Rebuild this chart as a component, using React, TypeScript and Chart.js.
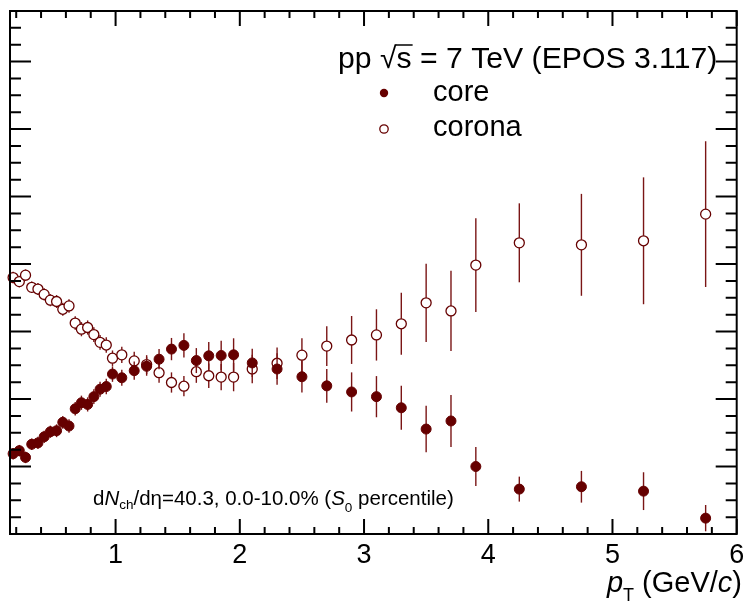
import React, { useEffect, useRef } from 'react';
import { Chart, registerables } from 'chart.js';

Chart.register(...registerables);

// ---- data ----
const pT = [
  0.175, 0.225, 0.275, 0.325, 0.375, 0.425, 0.475, 0.525, 0.575, 0.625, 0.675, 0.725, 0.775, 0.825, 0.875, 0.925, 0.975,
  1.05, 1.15, 1.25, 1.35, 1.45, 1.55, 1.65, 1.75, 1.85, 1.95,
  2.1, 2.3, 2.5, 2.7, 2.9, 3.1, 3.3, 3.5, 3.7, 3.9,
  4.25, 4.75, 5.25, 5.75,
];
const coreFrac = [
  0.238, 0.247, 0.227, 0.266, 0.270, 0.288, 0.303, 0.306, 0.331, 0.320, 0.371, 0.389, 0.384, 0.407, 0.429, 0.437, 0.474,
  0.463, 0.484, 0.497, 0.518, 0.548, 0.559, 0.514, 0.528, 0.529, 0.531,
  0.507, 0.489, 0.466, 0.439, 0.421, 0.407, 0.374, 0.311, 0.335, 0.200,
  0.133, 0.140, 0.127, 0.047,
];
const coreErr = [
  0.017, 0.017, 0.017, 0.017, 0.018, 0.018, 0.018, 0.019, 0.019, 0.020, 0.020, 0.021, 0.021, 0.022, 0.022, 0.023, 0.023,
  0.024, 0.027, 0.028, 0.030, 0.033, 0.036, 0.037, 0.041, 0.044, 0.049,
  0.042, 0.047, 0.047, 0.050, 0.058, 0.061, 0.065, 0.069, 0.077, 0.058,
  0.037, 0.047, 0.056, 0.039,
];
const coronaFrac = [
  0.760, 0.748, 0.767, 0.731, 0.726, 0.710, 0.693, 0.689, 0.666, 0.676, 0.625, 0.607, 0.612, 0.591, 0.568, 0.560, 0.521,
  0.531, 0.513, 0.502, 0.478, 0.449, 0.438, 0.481, 0.469, 0.465, 0.465,
  0.489, 0.506, 0.530, 0.557, 0.575, 0.590, 0.623, 0.685, 0.661, 0.797,
  0.863, 0.857, 0.869, 0.948,
];
const coronaErr = [
  0.017, 0.017, 0.017, 0.017, 0.018, 0.018, 0.018, 0.019, 0.019, 0.020, 0.020, 0.021, 0.021, 0.022, 0.022, 0.023, 0.023,
  0.024, 0.027, 0.028, 0.030, 0.030, 0.030, 0.033, 0.036, 0.039, 0.042,
  0.042, 0.047, 0.050, 0.059, 0.071, 0.076, 0.092, 0.116, 0.119, 0.139,
  0.117, 0.151, 0.188, 0.216,
];
const xTickValues = [1, 2, 3, 4, 5, 6];
const xTickLabels = ['1', '2', '3', '4', '5', '6'];
const seriesNames = ['core', 'corona'];
const titleParts = ['pp ', '√', 's', ' = 7 TeV (EPOS 3.117)'];

const X_MIN = 0.15;
const X_MAX = 6;
const Y_MIN = 0;
const Y_MAX = 1.55;

const MAROON = '#660000';
const BAR = '#7a1515';
const FONT = '"Liberation Sans", Arial, Helvetica, sans-serif';

type Run = { t: string; size: number; italic?: boolean; dy?: number };

function runWidth(ctx: CanvasRenderingContext2D, runs: Run[]) {
  let w = 0;
  for (const r of runs) {
    ctx.font = `${r.italic ? 'italic ' : ''}${r.size}px ${FONT}`;
    w += ctx.measureText(r.t).width;
  }
  return w;
}
function drawRuns(ctx: CanvasRenderingContext2D, runs: Run[], x: number, y: number) {
  ctx.textAlign = 'left';
  ctx.textBaseline = 'alphabetic';
  const xs: number[] = [];
  for (const r of runs) {
    ctx.font = `${r.italic ? 'italic ' : ''}${r.size}px ${FONT}`;
    xs.push(x);
    ctx.fillText(r.t, x, y + (r.dy || 0));
    x += ctx.measureText(r.t).width;
  }
  xs.push(x);
  return xs;
}

const rootPlugin = {
  id: 'rootStyle',
  beforeDatasetDraw(chart: any, args: any) {
    const ds = chart.data.datasets[args.index];
    const errs: number[] = ds.errors;
    if (!errs) return;
    const xs = chart.scales.x;
    const ys = chart.scales.y;
    const ctx = chart.ctx;
    ctx.save();
    ctx.strokeStyle = BAR;
    ctx.lineWidth = 1.4;
    ds.data.forEach((p: any, i: number) => {
      const px = xs.getPixelForValue(p.x);
      const y1 = ys.getPixelForValue(p.y - errs[i]);
      const y2 = ys.getPixelForValue(p.y + errs[i]);
      ctx.beginPath();
      ctx.moveTo(px, y1);
      ctx.lineTo(px, y2);
      ctx.stroke();
    });
    ctx.restore();
  },
  afterDraw(chart: any) {
    const ctx: CanvasRenderingContext2D = chart.ctx;
    const xs = chart.scales.x;
    const ys = chart.scales.y;
    const { left, right, top, bottom } = chart.chartArea;
    ctx.save();
    ctx.strokeStyle = '#000';
    ctx.fillStyle = '#000';
    ctx.lineWidth = 2;
    ctx.strokeRect(left, top, right - left, bottom - top);

    // x ticks (bottom & top)
    ctx.beginPath();
    for (let k = 1; k * 0.2 <= X_MAX + 1e-9; k++) {
      const v = Math.round(k * 0.2 * 100) / 100;
      if (v < X_MIN) continue;
      const major = Math.abs(v - Math.round(v)) < 1e-6;
      const len = major ? 15 : 7;
      const px = xs.getPixelForValue(v);
      ctx.moveTo(px, bottom);
      ctx.lineTo(px, bottom - len);
      ctx.moveTo(px, top);
      ctx.lineTo(px, top + len);
    }
    // y ticks (left & right)
    for (let k = 1; k * 0.05 <= Y_MAX + 1e-9; k++) {
      const v = k * 0.05;
      const major = k % 4 === 0;
      const len = major ? 21 : 11;
      const py = ys.getPixelForValue(v);
      ctx.moveTo(left, py);
      ctx.lineTo(left + len, py);
      ctx.moveTo(right, py);
      ctx.lineTo(right - len, py);
    }
    ctx.stroke();

    // x tick labels
    ctx.font = `27px ${FONT}`;
    ctx.textAlign = 'center';
    ctx.textBaseline = 'alphabetic';
    xTickValues.forEach((v, i) => {
      ctx.fillText(xTickLabels[i], xs.getPixelForValue(v), 563);
    });

    // x axis title
    const titleRuns: Run[] = [
      { t: 'p', size: 29, italic: true },
      { t: 'T', size: 18, dy: 9 },
      { t: ' (GeV/', size: 29 },
      { t: 'c', size: 29, italic: true },
      { t: ')', size: 29 },
    ];
    const tw = runWidth(ctx, titleRuns);
    drawRuns(ctx, titleRuns, 742 - tw, 592);

    // legend header
    const hdr: Run[] = titleParts.map((t) => ({ t, size: 30.2 }));
    const hx = drawRuns(ctx, hdr, 338, 68);
    ctx.lineWidth = 1.5;
    ctx.beginPath();
    ctx.moveTo(hx[2] - 1, 68 - 23);
    ctx.lineTo(hx[3] + 1, 68 - 23);
    ctx.stroke();

    // legend entries
    ctx.lineWidth = 1.3;
    ctx.fillStyle = MAROON;
    ctx.beginPath();
    ctx.arc(384, 93, 4.2, 0, Math.PI * 2);
    ctx.fill();
    ctx.fillStyle = '#fff';
    ctx.strokeStyle = MAROON;
    ctx.beginPath();
    ctx.arc(384, 129, 4.2, 0, Math.PI * 2);
    ctx.fill();
    ctx.stroke();
    ctx.fillStyle = '#000';
    ctx.font = `29px ${FONT}`;
    ctx.textAlign = 'left';
    ctx.fillText(seriesNames[0], 433, 101);
    ctx.fillText(seriesNames[1], 433, 136);

    // annotation
    const ann: Run[] = [
      { t: 'd', size: 20.5 },
      { t: 'N', size: 20.5, italic: true },
      { t: 'ch', size: 13.5, dy: 4 },
      { t: '/dη=40.3, 0.0-10.0% (', size: 20.5 },
      { t: 'S', size: 20.5, italic: true },
      { t: '0', size: 13.5, dy: 7 },
      { t: ' percentile)', size: 20.5 },
    ];
    drawRuns(ctx, ann, 93, 505);
    ctx.restore();
  },
};

export default function App() {
  const ref = useRef<HTMLCanvasElement | null>(null);
  useEffect(() => {
    document.body.style.margin = '0';
    const canvas = ref.current;
    if (!canvas) return;
    const chart = new Chart(canvas, {
      type: 'scatter',
      data: {
        datasets: [
          {
            label: seriesNames[0],
            data: pT.map((x, i) => ({ x, y: coreFrac[i] })),
            errors: coreErr,
            pointRadius: 5,
            pointBackgroundColor: MAROON,
            pointBorderColor: MAROON,
            pointBorderWidth: 1,
            showLine: false,
            clip: false,
            order: 0,
          } as any,
          {
            label: seriesNames[1],
            data: pT.map((x, i) => ({ x, y: coronaFrac[i] })),
            errors: coronaErr,
            pointRadius: 5,
            pointBackgroundColor: '#ffffff',
            pointBorderColor: MAROON,
            pointBorderWidth: 1.3,
            showLine: false,
            clip: false,
            order: 1,
          } as any,
        ],
      },
      options: {
        responsive: false,
        animation: false,
        events: [],
        layout: { padding: { left: 10, top: 11, right: 3, bottom: 72 } },
        scales: {
          x: { type: 'linear', min: X_MIN, max: X_MAX, display: false },
          y: { type: 'linear', min: Y_MIN, max: Y_MAX, display: false },
        },
        plugins: {
          legend: { display: false },
          tooltip: { enabled: false },
        },
      },
      plugins: [rootPlugin as any],
    });
    return () => chart.destroy();
  }, []);
  return (
    <div style={{ width: 743, height: 606, background: '#fff' }}>
      <canvas ref={ref} width={743} height={606} style={{ display: 'block' }} />
    </div>
  );
}
